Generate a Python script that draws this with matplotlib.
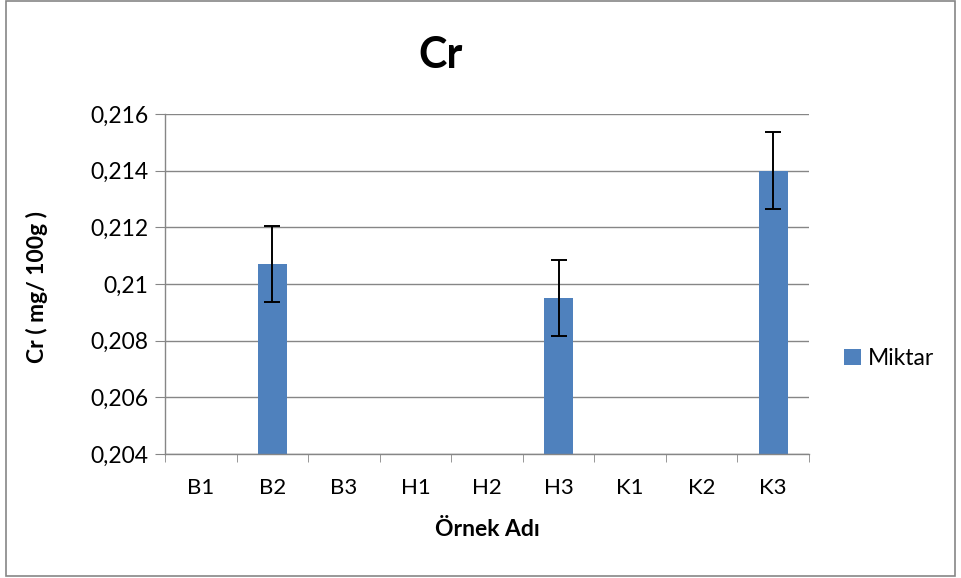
""" Cr bar chart with error bars. """

import numpy as np
import matplotlib
matplotlib.use("Agg")
import matplotlib.pyplot as plt
from matplotlib.patches import Rectangle

# Data
samples = ["B1", "B2", "B3", "H1", "H2", "H3", "K1", "K2", "K3"]
miktar = [np.nan, 0.2107, np.nan, np.nan, np.nan, 0.2095, np.nan, np.nan, 0.2140]
errors = [np.nan, 0.00134, np.nan, np.nan, np.nan, 0.00135, np.nan, np.nan, 0.00137]
y_ticks = [0.204, 0.206, 0.208, 0.210, 0.212, 0.214, 0.216]
y_tick_labels = ["0,204", "0,206", "0,208", "0,21", "0,212", "0,214", "0,216"]

plt.rcParams["font.family"] = ["Lato", "DejaVu Sans"]

fig = plt.figure(figsize=(9.61, 5.78), dpi=100)
ax = fig.add_axes([0.1717, 0.2145, 0.6701, 0.5883])

# Outer chart frame
fig.patches.append(Rectangle((0.006, 0.004), 0.988, 0.994, transform=fig.transFigure,
                             fill=False, edgecolor="#868686", linewidth=1.2))

x = np.arange(len(samples))
vals = np.array(miktar)
errs = np.array(errors)
mask = ~np.isnan(vals)

ax.bar(x[mask], vals[mask], width=0.4, color="#4F81BD", label="Miktar", zorder=2)
ax.errorbar(x[mask], vals[mask], yerr=errs[mask], fmt="none", ecolor="black",
            elinewidth=1.4, capsize=5.5, capthick=1.4, zorder=3)

ax.set_xlim(-0.5, len(samples) - 0.5)
ax.set_ylim(y_ticks[0], y_ticks[-1])
ax.set_yticks(y_ticks)
ax.set_yticklabels(y_tick_labels, fontsize=16.5)
ax.set_xticks(x)
ax.set_xticklabels(samples, fontsize=16)
ax.set_xticks(np.arange(len(samples) + 1) - 0.5, minor=True)
ax.tick_params(axis="x", which="major", length=0, pad=17)
ax.tick_params(axis="x", which="minor", length=6, color="#868686")
ax.tick_params(axis="y", length=7, color="#868686", pad=5)

ax.grid(axis="y", color="#868686", linewidth=1, zorder=0)
ax.set_axisbelow(True)
for side in ["top", "right"]:
    ax.spines[side].set_visible(False)
for side in ["left", "bottom"]:
    ax.spines[side].set_color("#868686")
    ax.spines[side].set_linewidth(1)

ax.set_title("Cr", fontsize=31, fontweight="bold", x=0.4286, pad=33)
ax.set_xlabel("Örnek Adı", fontsize=16.5, fontweight="bold")
ax.set_ylabel("Cr ( mg/ 100g )", fontsize=16.5, fontweight="bold")
ax.xaxis.set_label_coords(0.5, -0.19)
ax.yaxis.set_label_coords(-0.182, 0.49)

ax.legend(loc="center left", bbox_to_anchor=(1.0, 0.282), frameon=False,
          fontsize=16.5, handlelength=0.7, handleheight=0.7, handletextpad=0.3,
          borderaxespad=1.15)

fig.savefig("out.png", dpi=100)
